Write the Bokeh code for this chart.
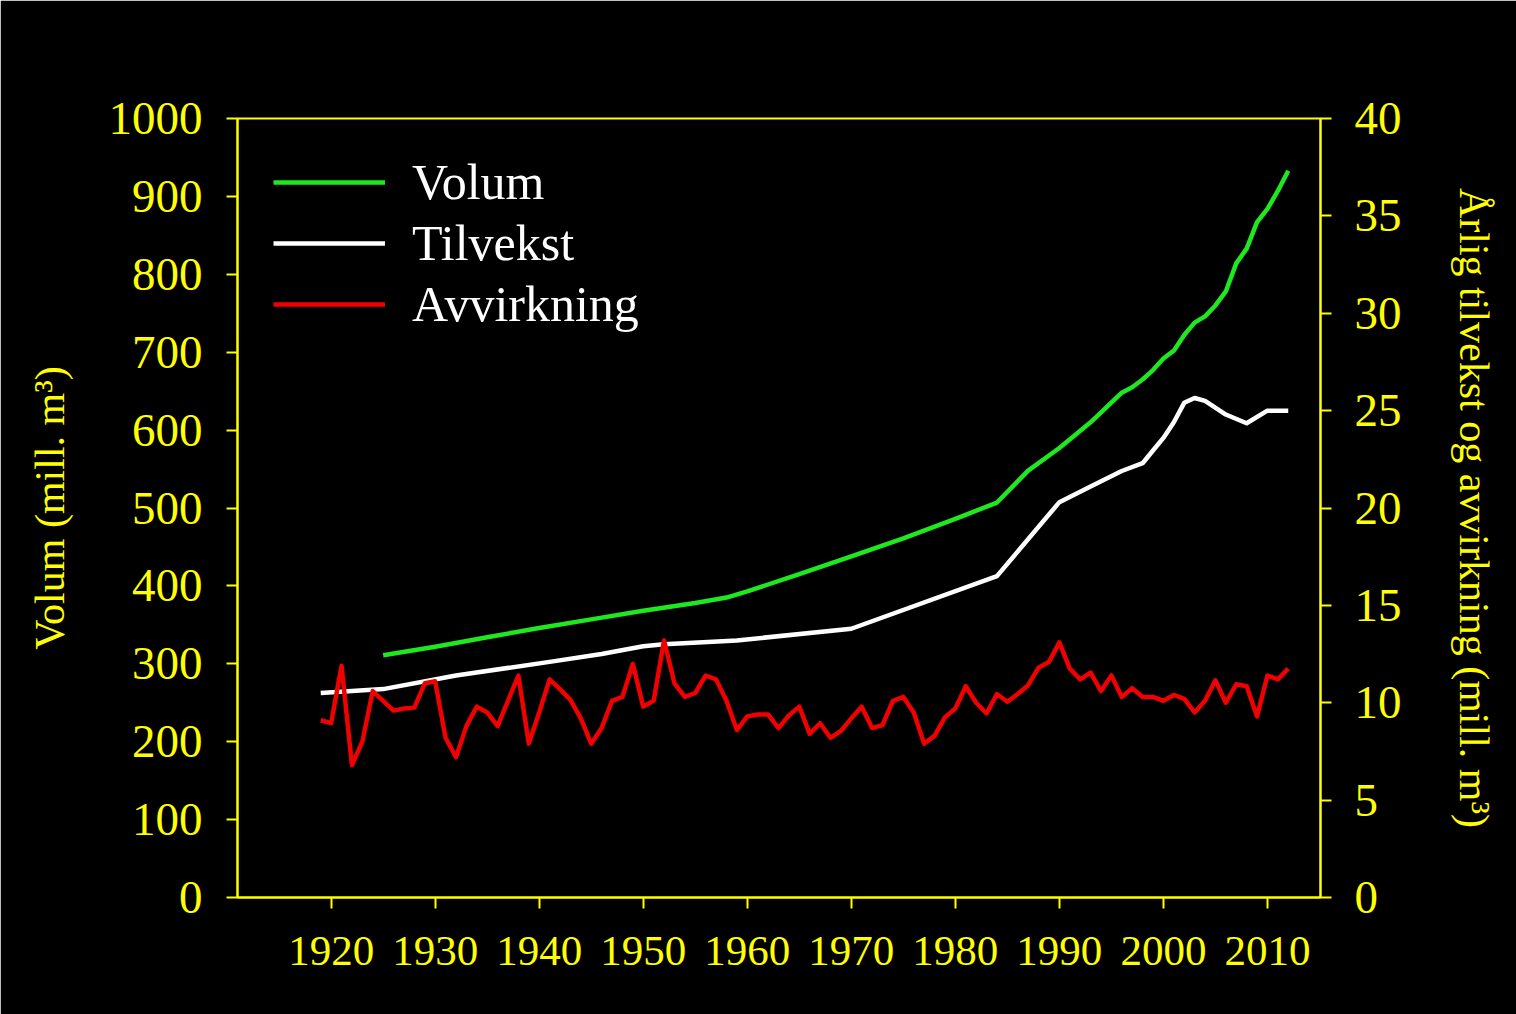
from bokeh.plotting import figure
from bokeh.models import Range1d, LinearAxis, FixedTicker, Legend, LegendItem
from bokeh.embed import file_html
from bokeh.resources import INLINE

# ---- data ----
volum_years = [1925, 1930, 1935, 1940, 1945, 1950, 1955, 1958, 1960, 1965, 1970,
               1975, 1980, 1984, 1987, 1990, 1993, 1996, 1997, 1998, 1999, 2000,
               2001, 2002, 2003, 2004, 2005, 2006, 2007, 2008, 2009, 2010, 2011, 2012]
volum = [311, 322, 334, 346, 357, 368, 378, 385, 393, 415, 438,
         461, 486, 507, 548, 577, 610, 648, 655, 665, 677, 692,
         702, 722, 738, 746, 760, 778, 814, 833, 867, 884, 907, 933]

tilvekst_years = [1919, 1925, 1932, 1941, 1946, 1950, 1952, 1959, 1970, 1984, 1990,
                  1993, 1996, 1998, 1999, 2000, 2001, 2002, 2003, 2004, 2006, 2008,
                  2010, 2012]
tilvekst = [10.5, 10.7, 11.4, 12.1, 12.5, 12.9, 13.0, 13.2, 13.8, 16.5, 20.3,
            21.1, 21.9, 22.3, 22.95, 23.6, 24.4, 25.4, 25.65, 25.5, 24.8, 24.35,
            25.0, 25.0]

avvirkning_years = list(range(1919, 2013))
avvirkning = [9.1, 8.95, 11.9, 6.8, 8.0, 10.6, 10.1, 9.6, 9.7, 9.75,
              11.0, 11.1, 8.2, 7.2, 8.8, 9.8, 9.5, 8.8, 10.1, 11.4,
              7.9, 9.5, 11.2, 10.7, 10.15, 9.2, 7.9, 8.7, 10.1, 10.3,
              12.0, 9.8, 10.1, 13.2, 11.0, 10.3, 10.5, 11.4, 11.2, 10.1,
              8.6, 9.3, 9.4, 9.4, 8.7, 9.35, 9.8, 8.4, 8.95, 8.2,
              8.55, 9.2, 9.8, 8.7, 8.85, 10.1, 10.3, 9.5, 7.9, 8.3,
              9.25, 9.7, 10.85, 10.0, 9.45, 10.45, 10.05, 10.45, 10.9, 11.8,
              12.1, 13.1, 11.75, 11.2, 11.55, 10.6, 11.4, 10.3, 10.75, 10.3,
              10.3, 10.1, 10.4, 10.2, 9.5, 10.1, 11.15, 10.0, 10.95, 10.85,
              9.3, 11.4, 11.2, 11.75]

x_ticks = [1920, 1930, 1940, 1950, 1960, 1970, 1980, 1990, 2000, 2010]
left_ticks = [0, 100, 200, 300, 400, 500, 600, 700, 800, 900, 1000]
right_ticks = [0, 5, 10, 15, 20, 25, 30, 35, 40]

left_title = "Volum (mill. m³)"
right_title = "Årlig tilvekst og avvirkning (mill. m³)"
series_names = ["Volum", "Tilvekst", "Avvirkning"]

# ---- styling ----
YEL = "#FFFF00"
FONT = "Liberation Serif"

p = figure(width=1516, height=1014, output_backend="svg", toolbar_location=None,
           x_range=Range1d(1911, 2015.1), y_range=Range1d(0, 1000),
           min_border_left=237, min_border_right=196,
           min_border_top=118, min_border_bottom=117)
p.extra_y_ranges = {"right": Range1d(0, 40)}

p.background_fill_color = "black"
p.border_fill_color = "black"
p.outline_line_color = YEL
p.outline_line_width = 2
p.grid.visible = False

right_axis = LinearAxis(y_range_name="right")
p.add_layout(right_axis, "right")

for ax in [p.xaxis[0], p.yaxis[0], right_axis]:
    ax.axis_line_color = YEL
    ax.axis_line_width = 2
    ax.major_tick_line_color = YEL
    ax.major_tick_line_width = 2
    ax.major_tick_out = 11
    ax.major_tick_in = 0
    ax.minor_tick_line_color = None
    ax.major_label_text_color = YEL
    ax.major_label_text_font = FONT
    ax.major_label_text_font_size = "47px"
    ax.axis_label_text_color = YEL
    ax.axis_label_text_font = FONT
    ax.axis_label_text_font_size = "42px"
    ax.axis_label_text_font_style = "normal"

p.xaxis[0].ticker = FixedTicker(ticks=x_ticks)
p.xaxis[0].major_label_text_font_size = "43px"
p.xaxis[0].major_label_standoff = 28
p.yaxis[0].ticker = FixedTicker(ticks=left_ticks)
p.yaxis[0].major_label_standoff = 24
p.yaxis[0].axis_label = left_title
p.yaxis[0].axis_label_standoff = 33
right_axis.ticker = FixedTicker(ticks=right_ticks)
right_axis.major_label_standoff = 23
right_axis.axis_label = right_title
right_axis.axis_label_standoff = 46

r_vol = p.line(volum_years, volum, line_color="#1EE81E", line_width=4.5, line_join="round")
r_til = p.line(tilvekst_years, tilvekst, y_range_name="right",
               line_color="white", line_width=4.5, line_join="round")
r_avv = p.line(avvirkning_years, avvirkning, y_range_name="right",
               line_color="#F00000", line_width=4.5, line_join="round")

legend = Legend(items=[LegendItem(label=series_names[0], renderers=[r_vol]),
                       LegendItem(label=series_names[1], renderers=[r_til]),
                       LegendItem(label=series_names[2], renderers=[r_avv])],
                location=(36, 564))
legend.background_fill_alpha = 0
legend.border_line_color = None
legend.padding = 0
legend.margin = 0
legend.spacing = 3
legend.glyph_width = 112
legend.glyph_height = 56
legend.label_height = 56
legend.label_standoff = 27
legend.label_text_color = "white"
legend.label_text_font = FONT
legend.label_text_font_size = "50px"
p.add_layout(legend)

open("out.html", "w").write(file_html(p, INLINE))
